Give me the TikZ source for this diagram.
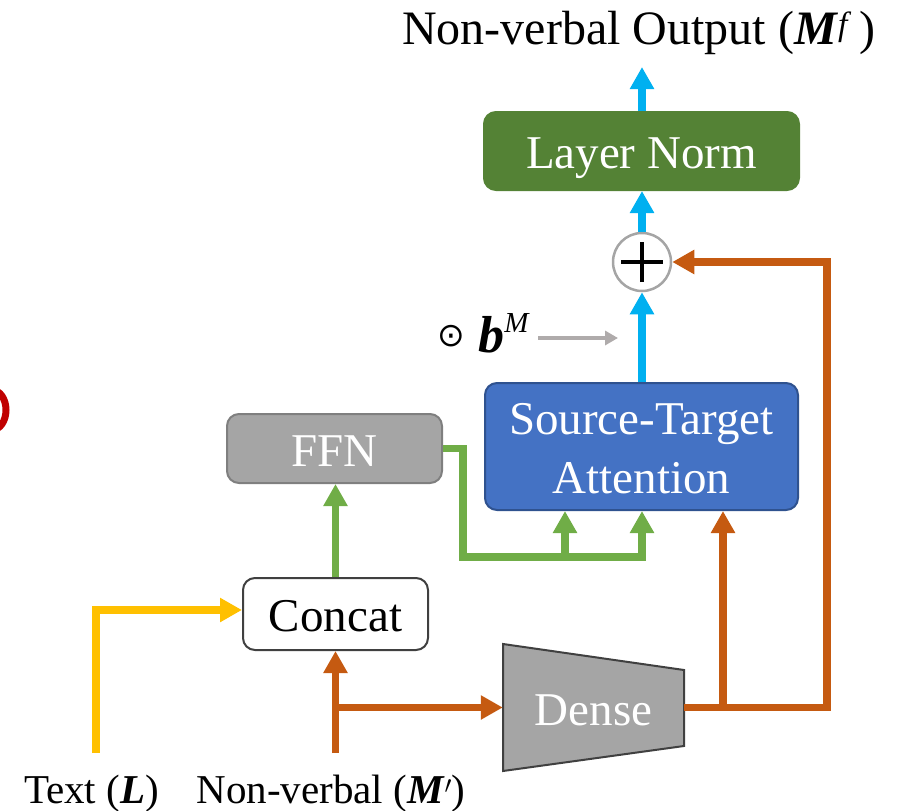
\documentclass[tikz,border=0pt]{standalone}
\usepackage{fontspec}
\setmainfont{Liberation Serif}
\newfontfamily\symfont{DejaVu Sans}
\usetikzlibrary{arrows.meta}
\definecolor{cyanc}{HTML}{00B0F0}
\definecolor{orangec}{HTML}{C55A11}
\definecolor{greenc}{HTML}{70AD47}
\definecolor{yellowc}{HTML}{FFC000}
\definecolor{lngreen}{HTML}{548235}
\definecolor{stablue}{HTML}{4472C4}
\definecolor{staborder}{HTML}{2F528F}
\definecolor{grayfill}{HTML}{A5A5A5}
\definecolor{grayborder}{HTML}{7F7F7F}
\definecolor{darkborder}{HTML}{404040}
\definecolor{arrowgray}{HTML}{AFABAB}
\definecolor{redc}{HTML}{C00000}
\newcommand\boxfont{\fontsize{47}{55}\selectfont}
\newcommand\labfont{\fontsize{48}{56}\selectfont}
\newcommand\botfont{\fontsize{41}{48}\selectfont}
\tikzset{
  box/.style={rounded corners=12pt, line width=2pt, inner sep=0pt, font=\boxfont, text height=35pt, text depth=0pt},
  boxtext/.style={inner sep=0pt, font=\boxfont, text=white, anchor=base},
  tipbig/.style={-{Triangle[width=23pt,length=22pt]}},
  cyanline/.style={draw=cyanc, line width=8pt, tipbig},
  orangeline/.style={draw=orangec, line width=7.5pt},
  greenline/.style={draw=greenc, line width=7.5pt},
  yellowline/.style={draw=yellowc, line width=7.5pt},
}
\begin{document}
\begin{tikzpicture}[x=1pt,y=-1pt]
\useasboundingbox (0,0) rectangle (906,811);
% partial red shape at the left edge
\draw[redc, line width=7pt] (-8,410) ellipse [x radius=14, y radius=20];

% nodes
\node[box, fill=lngreen, draw=lngreen, text=white, minimum width=315pt, minimum height=78pt] (lnorm) at (641.5,151) {Layer Norm};
\node[circle, draw=grayfill, line width=2.5pt, fill=white, minimum size=58pt, inner sep=0pt] (plus) at (642,262) {};
\draw[black, line width=3.5pt] ([xshift=-21pt]plus.center) -- ([xshift=21pt]plus.center);
\draw[black, line width=3.5pt] ([yshift=-20pt]plus.center) -- ([yshift=20pt]plus.center);
\node[box, fill=stablue, draw=staborder, minimum width=313pt, minimum height=127pt] (sta) at (641.5,446.5) {};
\node[boxtext] (statext1) at (641.5,434) {Source-Target};
\node[boxtext] (statext2) at (641.5,493) {Attention};
\node[box, fill=grayfill, draw=grayborder, text=white, minimum width=215pt, minimum height=69pt] (ffn) at (334.5,448.5) {FFN};
\node[box, fill=white, draw=darkborder, text=black, minimum width=185pt, minimum height=72pt] (concat) at (335.5,614) {Concat};
\filldraw[fill=grayfill, draw=darkborder, line width=2pt, line join=miter] (503,644) -- (684,670) -- (684,746) -- (503,771) -- cycle;
\node[inner sep=0pt, minimum width=181pt, minimum height=127pt, font=\boxfont, text height=35pt, text depth=0pt, text=white] (dense) at (593.5,707.5) {Dense};

% text labels
\node[anchor=base, inner sep=0pt, font=\labfont] (title) at (639,45) {Non-verbal Output (\textbf{\textit{M}}\textsuperscript{\textit{f}}\,)};
\node[anchor=base, inner sep=0pt, font=\botfont] (textlab) at (91.5,803) {Text (\textbf{\textit{L}})};
\node[anchor=base, inner sep=0pt, font=\botfont] (nvlab) at (331,803) {Non-verbal (\textbf{\textit{M}}$'$)};
\node[anchor=base east, inner sep=0pt] (bm) at (530,352) {{\symfont\fontsize{33}{33}\selectfont\raisebox{6pt}{⊙}}\hspace{13pt}{\fontsize{52}{52}\selectfont\textbf{\textit{b}}}{\fontsize{29}{29}\selectfont\raisebox{20pt}{\textit{M}}}};

% coordinates
\coordinate (out) at (642,67);
\coordinate (gtip) at (618,338);
\coordinate (rc1) at (827,707.5);
\coordinate (rc2) at (827,262);
\coordinate (br1) at (723,707.5);
\coordinate (g1) at (463,448.5);
\coordinate (g2) at (463,557);
\coordinate (g3) at (642,557);
\coordinate (g4) at (565,557);
\coordinate (yin) at (96,753);
\coordinate (yc) at (96,610);
\coordinate (nvin) at (335.5,753);
\coordinate (ob) at (335.5,707.5);

% connectors
\draw[cyanline] (lnorm.north -| out) -- (out);
\draw[cyanline] (plus.north) -- (plus.north |- lnorm.south);
\draw[cyanline] (sta.north -| plus) -- (plus.south);
\draw[arrowgray, line width=3.5pt, -{Triangle[width=14pt,length=13pt]}, shorten <=8pt] (bm.east |- gtip) -- (gtip);

\draw[orangeline, tipbig] (dense.east) -- (rc1) -- (rc2) -- (plus.east);
\draw[orangeline, tipbig] (br1) -- (br1 |- sta.south);
\draw[orangeline, tipbig] (nvin) -- (concat.south);
\draw[orangeline, tipbig] (ob) -- (dense.west);

\draw[yellowline, tipbig] (yin) -- (yc) -- (yc -| concat.west);

\draw[greenline, tipbig] (concat.north) -- (ffn.south -| concat.north);
\draw[greenline, tipbig] (ffn.east) -- (g1) -- (g2) -- (g3) -- (g3 |- sta.south);
\draw[greenline, tipbig] (g4) -- (g4 |- sta.south);
\end{tikzpicture}
\end{document}
